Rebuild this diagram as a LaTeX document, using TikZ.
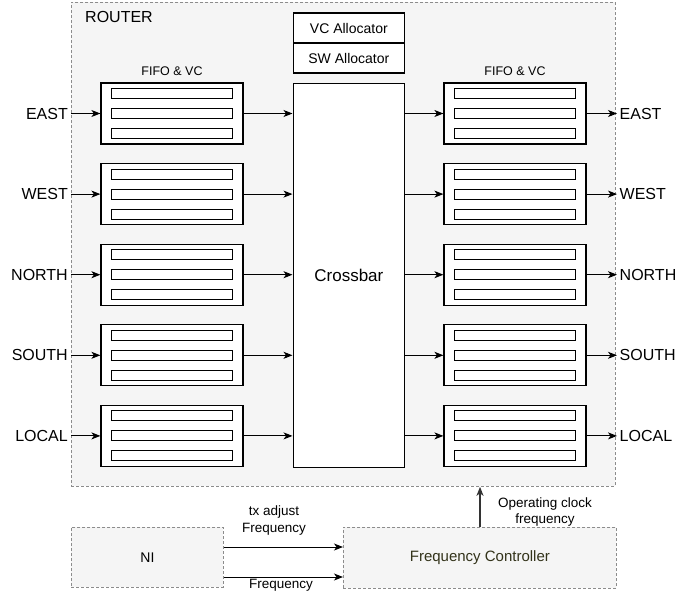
\documentclass[tikz,border=0pt]{standalone}
\usepackage{fontspec}
\setmainfont{Liberation Sans}
\usetikzlibrary{arrows.meta,calc}

\definecolor{panel}{HTML}{F5F5F5}
\definecolor{dashgray}{HTML}{8C8C8C}
\definecolor{ctrltext}{HTML}{33331A}

\tikzset{
  fs/.style 2 args={font=\fontsize{#1}{#2}\selectfont},
  region/.style={draw=dashgray, fill=panel, dash pattern=on 3pt off 2pt, line width=0.8pt,
                 minimum width=#1},
  fifobox/.style={draw=black, fill=white, line width=1.2pt, minimum width=142pt,
                  minimum height=61pt, inner sep=0pt},
  slot/.style={draw=black, fill=white, line width=1pt, minimum width=121pt,
               minimum height=10pt, inner sep=0pt},
  unit/.style={draw=black, fill=white, line width=1.2pt, minimum width=111.5pt, inner sep=0pt},
  port/.style={fs={16}{19}, inner sep=0pt},
  flow/.style={-{Stealth[length=9pt,width=7pt,inset=2.5pt]}, line width=1pt, black},
  clk/.style={-{Stealth[length=9pt,width=7pt,inset=2.5pt]}, line width=1.5pt, black!80},
}

\begin{document}
\begin{tikzpicture}[x=1pt,y=-1pt]
\useasboundingbox (0,0) rectangle (679,596);

% router enclosure and the two blocks below it
\node[region=544pt, minimum height=484pt, anchor=north west, inner sep=0pt] (router) at (71,2) {};
\node[anchor=west, fs={16}{19}, inner sep=0pt] (rtitle) at (85,17) {ROUTER};
\node[region=152pt, minimum height=60pt, anchor=north west, inner sep=0pt, fs={14}{17}] (ni) at (71,527) {NI};
\node[region=273pt, minimum height=61pt, anchor=north west, inner sep=0pt, fs={15}{18},
      text=ctrltext] (fc) at (343,527) {Frequency Controller};

% allocators and crossbar
\node[unit, minimum height=30pt, anchor=north west, fs={14}{17}] (vca) at (292.5,12.5) {VC Allocator};
\node[unit, minimum height=30pt, anchor=north west, fs={14}{17}] (swa) at (292.5,42.5) {SW Allocator};
\node[unit, minimum height=384pt, anchor=north west, fs={17}{20}] (xbar) at (292.5,83) {Crossbar};

% buffer headings
\node[fs={12.5}{15}, inner sep=0pt] (hin) at (172,71) {FIFO \& VC};
\node[fs={12.5}{15}, inner sep=0pt] (hout) at (515,71) {FIFO \& VC};

% input and output buffers, one row per port
\foreach \i/\p in {1/EAST,2/WEST,3/NORTH,4/SOUTH,5/LOCAL}{
  \pgfmathsetmacro{\yc}{113.5+80.6*(\i-1)}
  \node[fifobox] (in\i) at (172,\yc) {};
  \node[fifobox] (out\i) at (515,\yc) {};
  \foreach \k/\d in {a/-20,b/0,c/20}{
    \node[slot] (in\i\k) at ($(in\i.center)+(0,\d)$) {};
    \node[slot] (out\i\k) at ($(out\i.center)+(0,\d)$) {};
  }
  \node[port, anchor=east, inner sep=3pt] (src\i) at (71,\yc) {\p};
  \node[port, anchor=west, inner sep=2.5pt] (dst\i) at (617,\yc) {\p};
  \draw[flow] (src\i.east) -- (in\i.west);
  \draw[flow] (in\i.east) -- (xbar.west |- in\i.east);
  \draw[flow] (xbar.east |- out\i.west) -- (out\i.west);
  \draw[flow] (out\i.east) -- (dst\i.west);
}

% frequency control signals
\coordinate (tune) at (0,547);
\coordinate (base) at (0,577);
\coordinate (clkx) at (480,0);
\draw[flow] (ni.east |- tune) -- (fc.west |- tune);
\draw[flow] (ni.east |- base) -- (fc.west |- base);
\draw[clk] (fc.north -| clkx) -- (router.south -| clkx);

\node[fs={13.5}{17}, align=center, inner sep=0pt] (ltune) at (274,521) {tx adjust\\Frequency};
\node[fs={13.5}{17}, inner sep=0pt] (lbase) at (281,585) {Frequency};
\node[fs={13.5}{16}, align=center, inner sep=0pt] (lclk) at (545,512) {Operating clock\\frequency};
\end{tikzpicture}
\end{document}
